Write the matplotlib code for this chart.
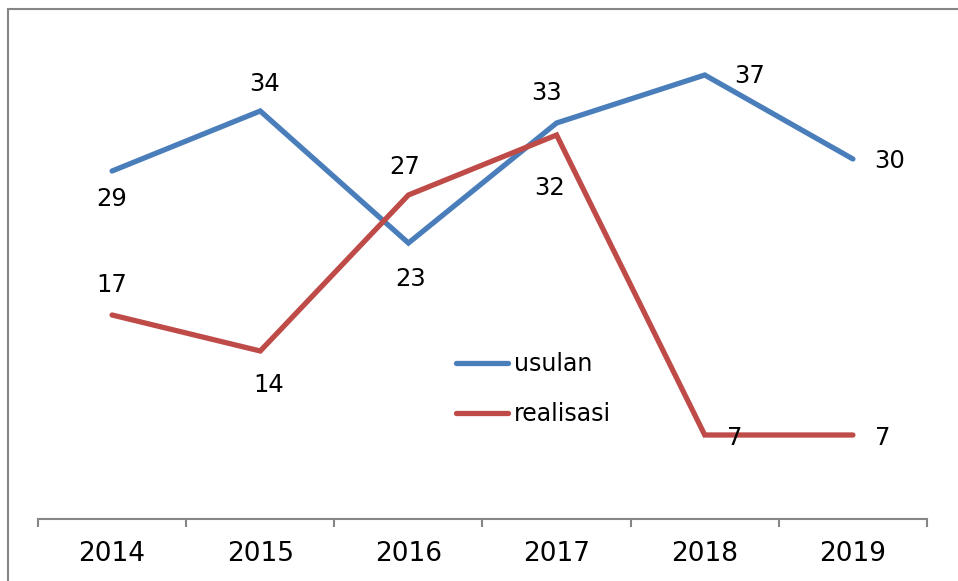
import matplotlib
matplotlib.use('Agg')
import matplotlib.pyplot as plt
from matplotlib.patches import Rectangle

years = ['2014', '2015', '2016', '2017', '2018', '2019']
usulan = [29, 34, 23, 33, 37, 30]
realisasi = [17, 14, 27, 32, 7, 7]

# label offsets in pixels (dx, dy) relative to each point
usulan_off = [(0, -28), (4, 27), (2, -36), (-10, 30), (45, -1), (37, -2)]
real_off = [(0, 30), (8, -34), (-4, 28), (-7, -53), (30, -3), (30, -3)]

BLUE = '#4A7EBB'
RED = '#BE4B48'
GRAY = '#868686'

W, H = 958, 581
fig = plt.figure(figsize=(W / 100, H / 100), dpi=100)
ax = fig.add_axes([38 / W, (H - 519) / H, (927 - 38) / W, 480 / H])

x = list(range(len(years)))
ax.plot(x, usulan, color=BLUE, lw=3.8, label='usulan', solid_capstyle='round',
        solid_joinstyle='miter')
ax.plot(x, realisasi, color=RED, lw=3.8, label='realisasi', solid_capstyle='round',
        solid_joinstyle='miter')

for xi, v, (dx, dy) in zip(x, usulan, usulan_off):
    ax.annotate(str(v), (xi, v), xytext=(dx, dy), textcoords='offset pixels',
                ha='center', va='center', fontsize=17.5)
for xi, v, (dx, dy) in zip(x, realisasi, real_off):
    ax.annotate(str(v), (xi, v), xytext=(dx, dy), textcoords='offset pixels',
                ha='center', va='center', fontsize=17.5)

ax.set_xlim(-0.5, len(years) - 0.5)
ax.set_ylim(0, 40)
for s in ['top', 'right', 'left']:
    ax.spines[s].set_visible(False)
ax.spines['bottom'].set_color(GRAY)
ax.spines['bottom'].set_linewidth(1.5)
ax.set_yticks([])
ax.set_xticks([i - 0.5 for i in range(len(years) + 1)])
ax.set_xticklabels([])
ax.set_xticks(x, minor=True)
ax.set_xticklabels(years, minor=True, fontsize=19)
ax.tick_params(axis='x', which='major', direction='out', length=6, width=1.5, color=GRAY)
ax.tick_params(axis='x', which='minor', length=0, pad=16)

leg = ax.legend(loc='upper left', bbox_to_anchor=(456 / W, (H - 352) / H),
                bbox_transform=fig.transFigure, frameon=False, fontsize=17,
                handlelength=2.2, handletextpad=0.25, labelspacing=1.1,
                borderpad=0, borderaxespad=0)

# chart frame, cropped on the right and bottom like the source image
fig.patches.append(Rectangle((8 / W, -0.05), 1.0, (H - 9) / H + 0.05,
                             transform=fig.transFigure, fill=False,
                             edgecolor=GRAY, lw=1.5))

fig.savefig('out.png', dpi=100)
